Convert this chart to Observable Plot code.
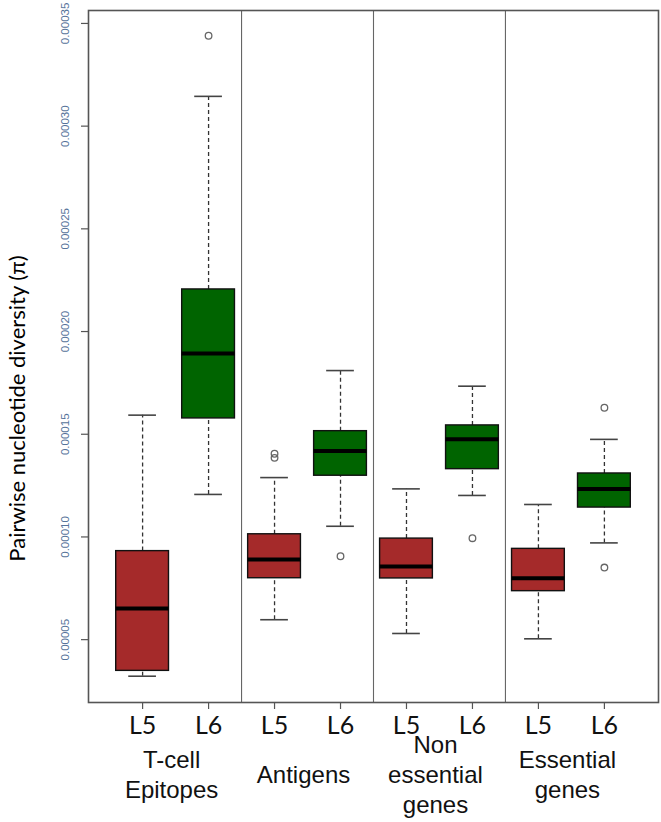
<!DOCTYPE html>
<html>
<head>
<meta charset="utf-8">
<script src="https://cdn.jsdelivr.net/npm/d3@7"></script>
<script src="https://cdn.jsdelivr.net/npm/@observablehq/plot@0.6"></script>
<style>
  html, body { margin: 0; padding: 0; background: #fff; }
  #chart svg { display: block; }
</style>
</head>
<body>
<div id="chart"></div>
<script>
// ---- data ----
const categories = ["T-cell\nEpitopes", "Antigens", "Non\nessential\ngenes", "Essential\ngenes"];
const lineages = ["L5", "L6"];
const whiskerLow  = [0.0000322, 0.0001207, 0.0000597, 0.0001052, 0.0000530, 0.0001202, 0.0000504, 0.0000971];
const lowerQuart  = [0.0000348, 0.0001577, 0.0000799, 0.0001298, 0.0000798, 0.0001330, 0.0000736, 0.0001143];
const medians     = [0.0000652, 0.0001893, 0.0000890, 0.0001418, 0.0000856, 0.0001476, 0.0000799, 0.0001234];
const upperQuart  = [0.0000931, 0.0002205, 0.0001013, 0.0001515, 0.0000992, 0.0001543, 0.0000942, 0.0001309];
const whiskerHigh = [0.0001593, 0.0003145, 0.0001289, 0.0001810, 0.0001234, 0.0001734, 0.0001158, 0.0001475];
const outlierBox    = [1, 2, 2, 3, 5, 7, 7];
const outlierValues = [0.000344, 0.0001405, 0.0001385, 0.0000906, 0.0000994, 0.0001629, 0.0000851];
const yTicks = [0.00005, 0.00010, 0.00015, 0.00020, 0.00025, 0.00030, 0.00035];
const yTitle = "Pairwise nucleotide diversity (\u03c0)";

// ---- derived tables ----
const boxes = medians.map((m, i) => ({
  pos: i + 1,
  lineage: lineages[i % lineages.length],
  lo: whiskerLow[i], q1: lowerQuart[i], med: m, q3: upperQuart[i], hi: whiskerHigh[i]
}));
const outliers = outlierValues.map((v, k) => ({pos: outlierBox[k] + 1, value: v}));
const groupLabels = categories.map((c, g) => ({label: c, pos: g * 2 + 1.5}));
const separators = d3.range(1, categories.length).map(g => g * 2 + 0.5);
const n = boxes.length;
const xPad = 0.04 * n;
const half = 0.4, capHalf = 0.21;
const fmt = d3.format(".5f");

const chart = Plot.plot({
  width: 661,
  height: 822,
  marginLeft: 88,
  marginRight: 3,
  marginTop: 10,
  marginBottom: 120,
  style: {background: "#fff", fontFamily: "Liberation Sans, Arial, sans-serif"},
  x: {type: "linear", domain: [0.5 - xPad, n + 0.5 + xPad], axis: null},
  y: {domain: [0.0000194, 0.0003563], axis: null},
  color: {domain: lineages, range: ["#a52a2a", "#006400"]},
  marks: [
    // group separators
    Plot.ruleX(separators, {stroke: "#666", strokeWidth: 1.1}),
    // whiskers (dashed)
    Plot.ruleX(boxes, {x: "pos", y1: "q3", y2: "hi", stroke: "#333", strokeWidth: 1.3, strokeDasharray: "4,3"}),
    Plot.ruleX(boxes, {x: "pos", y1: "lo", y2: "q1", stroke: "#333", strokeWidth: 1.3, strokeDasharray: "4,3"}),
    // caps
    Plot.ruleY(boxes, {y: "hi", x1: d => d.pos - capHalf, x2: d => d.pos + capHalf, stroke: "#444", strokeWidth: 1.6}),
    Plot.ruleY(boxes, {y: "lo", x1: d => d.pos - capHalf, x2: d => d.pos + capHalf, stroke: "#444", strokeWidth: 1.6}),
    // boxes
    Plot.rect(boxes, {x1: d => d.pos - half, x2: d => d.pos + half, y1: "q1", y2: "q3", fill: "lineage", stroke: "#111", strokeWidth: 1.4}),
    // medians
    Plot.ruleY(boxes, {y: "med", x1: d => d.pos - half, x2: d => d.pos + half, stroke: "#000", strokeWidth: 4}),
    // outliers
    Plot.dot(outliers, {x: "pos", y: "value", r: 3.3, stroke: "#666", strokeWidth: 1.3, fill: "none"}),
    // frame
    Plot.frame({stroke: "#555", strokeWidth: 1.6}),
    // y axis ticks + rotated labels
    Plot.axisY({ticks: yTicks, tickSize: 7, tickFormat: () => "", label: null, stroke: "#555", strokeWidth: 1.2}),
    Plot.text(yTicks, {y: d => d, text: d => fmt(d), frameAnchor: "left", dx: -23, rotate: -90, textAnchor: "middle", fontSize: 11.5, fill: "#56739a", fontFamily: "Liberation Sans, Arial, sans-serif"}),
    // x axis
    Plot.axisX({ticks: boxes.map(b => b.pos), tickFormat: p => lineages[(p - 1) % lineages.length], label: null, tickSize: 7, tickPadding: 7, stroke: "#555", strokeWidth: 1.2, fontSize: 25, fill: "#111", fontFamily: "Lato, Open Sans, sans-serif"}),
    // category labels
    Plot.text(groupLabels, {x: "pos", text: "label", frameAnchor: "bottom", dy: 71, dx: -4, lineAnchor: "middle", lineHeight: 1.25, fontSize: 24, fill: "#111", fontFamily: "Liberation Sans, Arial, sans-serif"}),
    // y title
    Plot.text([yTitle], {text: d => d, frameAnchor: "left", dx: -71, dy: 52, rotate: -90, textAnchor: "middle", fontSize: 22, fill: "#000", fontFamily: "Lato, Open Sans, sans-serif"})
  ]
});
document.getElementById("chart").appendChild(chart);
</script>
</body>
</html>
